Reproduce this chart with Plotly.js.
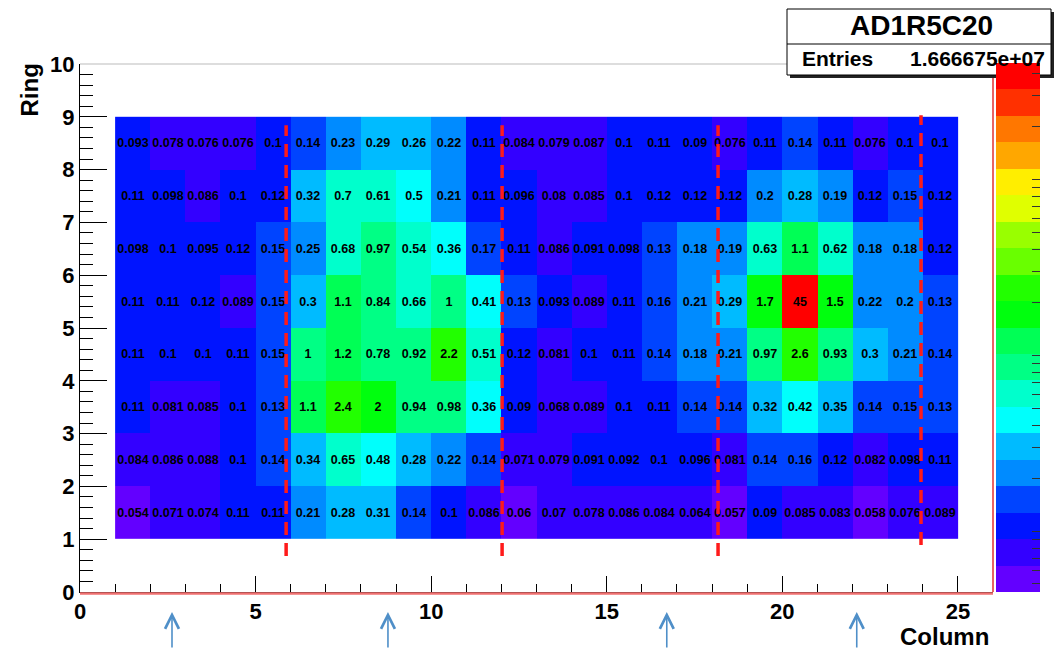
<!DOCTYPE html>
<html>
<head>
<meta charset="utf-8">
<script src="https://cdn.plot.ly/plotly-3.0.1.min.js"></script>
<style>
  html, body { margin: 0; padding: 0; background: #fff; }
  #chart { width: 1056px; height: 649px; }
</style>
</head>
<body>
<div id="chart"></div>
<script>
// Column and ring indices of the PMT map
const columns = [1, 2, 3, 4, 5, 6, 7, 8, 9, 10, 11, 12, 13, 14, 15, 16, 17, 18, 19, 20, 21, 22, 23, 24];
const rings = [1, 2, 3, 4, 5, 6, 7, 8];

// Per-channel values, one array per ring (columns 1..24)
const ring1 = [0.054, 0.071, 0.074, 0.11, 0.11, 0.21, 0.28, 0.31, 0.14, 0.1, 0.086, 0.06, 0.07, 0.078, 0.086, 0.084, 0.064, 0.057, 0.09, 0.085, 0.083, 0.058, 0.076, 0.089];
const ring2 = [0.084, 0.086, 0.088, 0.1, 0.14, 0.34, 0.65, 0.48, 0.28, 0.22, 0.14, 0.071, 0.079, 0.091, 0.092, 0.1, 0.096, 0.081, 0.14, 0.16, 0.12, 0.082, 0.098, 0.11];
const ring3 = [0.11, 0.081, 0.085, 0.1, 0.13, 1.1, 2.4, 2, 0.94, 0.98, 0.36, 0.09, 0.068, 0.089, 0.1, 0.11, 0.14, 0.14, 0.32, 0.42, 0.35, 0.14, 0.15, 0.13];
const ring4 = [0.11, 0.1, 0.1, 0.11, 0.15, 1, 1.2, 0.78, 0.92, 2.2, 0.51, 0.12, 0.081, 0.1, 0.11, 0.14, 0.18, 0.21, 0.97, 2.6, 0.93, 0.3, 0.21, 0.14];
const ring5 = [0.11, 0.11, 0.12, 0.089, 0.15, 0.3, 1.1, 0.84, 0.66, 1, 0.41, 0.13, 0.093, 0.089, 0.11, 0.16, 0.21, 0.29, 1.7, 45, 1.5, 0.22, 0.2, 0.13];
const ring6 = [0.098, 0.1, 0.095, 0.12, 0.15, 0.25, 0.68, 0.97, 0.54, 0.36, 0.17, 0.11, 0.086, 0.091, 0.098, 0.13, 0.18, 0.19, 0.63, 1.1, 0.62, 0.18, 0.18, 0.12];
const ring7 = [0.11, 0.098, 0.086, 0.1, 0.12, 0.32, 0.7, 0.61, 0.5, 0.21, 0.11, 0.096, 0.08, 0.085, 0.1, 0.12, 0.12, 0.12, 0.2, 0.28, 0.19, 0.12, 0.15, 0.12];
const ring8 = [0.093, 0.078, 0.076, 0.076, 0.1, 0.14, 0.23, 0.29, 0.26, 0.22, 0.11, 0.084, 0.079, 0.087, 0.1, 0.11, 0.09, 0.076, 0.11, 0.14, 0.11, 0.076, 0.1, 0.1];

// Colour-axis range (log scale)
const zMin = 0.045;
const zMax = 46;

// Dashed column boundaries and their vertical extent
const boundaryColumns = [5.87, 12.02, 18.17, 23.95];
const boundaryBottoms = [0.68, 0.68, 0.68, 0.89];
const boundaryTops = [8.84, 8.84, 8.84, 9.03];

// Arrow markers under the column axis
const arrowColumns = [2.62, 8.77, 16.71, 22.12];

// Statistics box text
const histName = 'AD1R5C20';
const entriesLabel = 'Entries';
const entriesValue = '1.666675e+07';

// 20-level rainbow palette (HLS hue sweep), violet -> red
const bandColors = [
  '#6300ff', '#3300ff', '#0014ff', '#0044ff', '#008bff',
  '#00bbff', '#00fffc', '#00ffcc', '#00ff85', '#00ff55',
  '#00ff0e', '#22ff00', '#69ff00', '#99ff00', '#e0ff00',
  '#ffee00', '#ffa700', '#ff7700', '#ff3000', '#ff0000'
];

const values = [ring1, ring2, ring3, ring4, ring5, ring6, ring7, ring8];
const zLog = values.map(r => r.map(v => Math.log10(v)));
const labels = values.map(r => r.map(v => String(v)));
const xCenters = columns.map(c => c + 0.5);
const yCenters = rings.map(r => r + 0.5);

const colorscale = [];
bandColors.forEach((c, i) => {
  colorscale.push([i / bandColors.length, c]);
  colorscale.push([(i + 1) / bandColors.length, c]);
});

const cbTicks = [];
[0.01, 0.1, 1, 10].forEach(d => {
  for (let k = 1; k <= 9; k++) {
    const v = k * d;
    if (v >= zMin && v <= zMax) cbTicks.push(Math.log10(v));
  }
});

const FONT = 'Liberation Sans, Arial, Helvetica, sans-serif';

// Plot-frame geometry in pixels, for placing the stat box and colour bar
const L = 80, R = 993, T = 64, B = 592;
const px = v => (v - L) / (R - L);
const py = v => (B - v) / (B - T);

const heat = {
  type: 'heatmap',
  x: xCenters,
  y: yCenters,
  z: zLog,
  text: labels,
  texttemplate: '%{text}',
  textfont: { family: FONT, size: 12.5, color: '#000', weight: 'bold' },
  colorscale: colorscale,
  zmin: Math.log10(zMin),
  zmax: Math.log10(zMax),
  xgap: 0,
  ygap: 0,
  hoverinfo: 'skip',
  colorbar: {
    x: px(996), xanchor: 'left', xpad: 0,
    y: py(63), yanchor: 'top', ypad: 0,
    thickness: 44, thicknessmode: 'pixels',
    len: 529, lenmode: 'pixels',
    tickvals: cbTicks,
    ticks: 'inside', ticklen: 8, tickcolor: '#333', tickwidth: 1,
    showticklabels: false,
    outlinewidth: 1, outlinecolor: 'rgba(0,0,0,0)'
  }
};

const shapes = [];
// frame: light top edge, red right edge (beneath the stat box)
shapes.push({ type: 'line', xref: 'paper', yref: 'paper', x0: 0, x1: 1, y0: 1, y1: 1, line: { color: '#bbbbbb', width: 1 }, layer: 'below' });
shapes.push({ type: 'line', xref: 'paper', yref: 'paper', x0: 1, x1: 1, y0: 0, y1: 1, line: { color: '#e03030', width: 1.5 }, layer: 'below' });
// statistics box with drop shadow, kept under the colour bar
shapes.push({ type: 'rect', xref: 'paper', yref: 'paper', x0: px(790), x1: px(1054), y0: py(78), y1: py(12), fillcolor: '#222', line: { width: 0 }, layer: 'below' });
shapes.push({ type: 'rect', xref: 'paper', yref: 'paper', x0: px(787), x1: px(1051), y0: py(75), y1: py(9), fillcolor: '#fff', line: { color: '#000', width: 1 }, layer: 'below' });
shapes.push({ type: 'line', xref: 'paper', yref: 'paper', x0: px(787), x1: px(1051), y0: py(44), y1: py(44), line: { color: '#000', width: 1 }, layer: 'below' });
// bottom frame edge
shapes.push({ type: 'line', xref: 'paper', yref: 'paper', x0: 0, x1: 1, y0: -0.003, y1: -0.003, line: { color: '#f07070', width: 2.5 } });
boundaryColumns.forEach((c, i) => {
  shapes.push({
    type: 'line', xref: 'x', yref: 'y',
    x0: c, x1: c, y0: boundaryBottoms[i], y1: boundaryTops[i],
    line: { color: '#ff1a1a', width: 3.5, dash: '13px,8px' },
    layer: 'above'
  });
});

const annotations = [
  { text: histName, xref: 'paper', yref: 'paper', x: px(921), y: py(26), xanchor: 'center', yanchor: 'middle', showarrow: false, font: { family: FONT, size: 28, color: '#000', weight: 'bold' } },
  { text: entriesLabel, xref: 'paper', yref: 'paper', x: px(800), y: py(59), xanchor: 'left', yanchor: 'middle', showarrow: false, font: { family: FONT, size: 21, color: '#000', weight: 'bold' } },
  { text: entriesValue, xref: 'paper', yref: 'paper', x: px(1047), y: py(59), xanchor: 'right', yanchor: 'middle', showarrow: false, font: { family: FONT, size: 21, color: '#000', weight: 'bold' } },
  { text: 'Ring', xref: 'paper', yref: 'paper', x: px(29), y: py(62), xanchor: 'center', yanchor: 'top', textangle: -90, showarrow: false, font: { family: FONT, size: 24, color: '#000', weight: 'bold' } },
  { text: 'Column', xref: 'paper', yref: 'paper', x: px(991), y: py(636), xanchor: 'right', yanchor: 'middle', showarrow: false, font: { family: FONT, size: 24, color: '#000', weight: 'bold' } }
];
arrowColumns.forEach(c => {
  annotations.push({
    text: '', xref: 'x', yref: 'paper', x: c, y: py(612),
    showarrow: true, ax: 0, ay: 40, arrowhead: 5, arrowsize: 1.7, arrowwidth: 1.6,
    arrowcolor: '#4f8fc8', standoff: 0
  });
});

const layout = {
  width: 1056, height: 649,
  margin: { l: L, r: 1056 - R, t: T, b: 649 - B, pad: 0, autoexpand: false },
  paper_bgcolor: '#fff',
  plot_bgcolor: '#fff',
  showlegend: false,
  xaxis: {
    range: [0, 26], showgrid: false, zeroline: false,
    showline: true, linecolor: '#000', linewidth: 1,
    tickmode: 'linear', tick0: 0, dtick: 5,
    ticks: 'inside', ticklen: 16, tickcolor: '#000', tickwidth: 1,
    minor: { tickmode: 'linear', tick0: 0, dtick: 1, ticks: 'inside', ticklen: 8, tickcolor: '#000', tickwidth: 1 },
    tickfont: { family: FONT, size: 22, color: '#000', weight: 'bold' },
    fixedrange: true
  },
  yaxis: {
    range: [0, 10], showgrid: false, zeroline: false,
    showline: true, linecolor: '#000', linewidth: 1,
    tickmode: 'linear', tick0: 0, dtick: 1,
    ticks: 'inside', ticklen: 27, tickcolor: '#000', tickwidth: 1,
    minor: { tickmode: 'linear', tick0: 0, dtick: 0.2, ticks: 'inside', ticklen: 13, tickcolor: '#000', tickwidth: 1 },
    tickfont: { family: FONT, size: 22, color: '#000', weight: 'bold' },
    fixedrange: true
  },
  shapes: shapes,
  annotations: annotations
};

Plotly.newPlot('chart', [heat], layout, { displayModeBar: false, staticPlot: true });
</script>
</body>
</html>
